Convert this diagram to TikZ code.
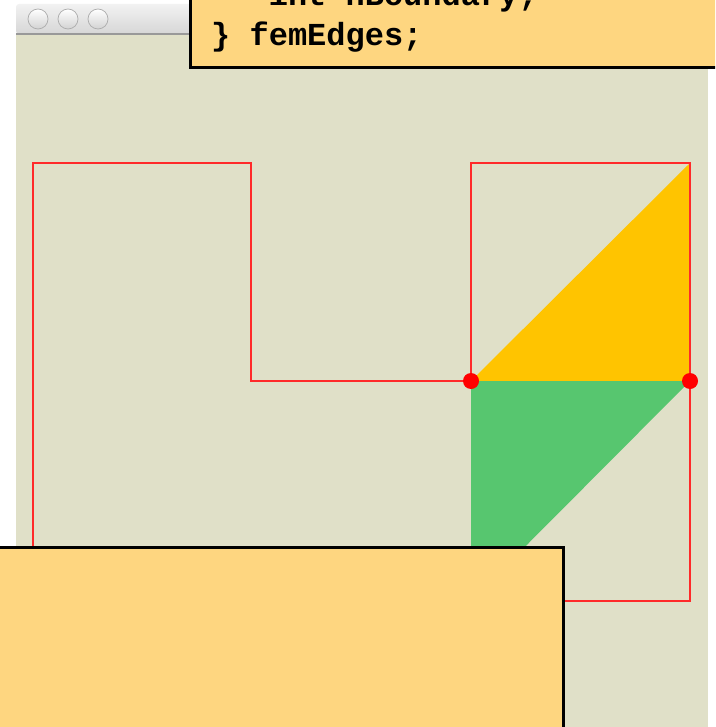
\documentclass[tikz,border=0pt]{standalone}
\usepackage{fontspec}
\setmonofont{Liberation Mono}
\definecolor{canvas}{HTML}{E0E0C8}
\definecolor{barlight}{HTML}{F2F2F2}
\definecolor{bardark}{HTML}{D6D6D6}
\definecolor{note}{HTML}{FED680}
\definecolor{meshred}{HTML}{FF2A2A}
\definecolor{upper}{HTML}{FFC400}
\definecolor{lower}{HTML}{57C66F}

\begin{document}
\begin{tikzpicture}[x=1pt,y=-1pt,
    codebox/.style={fill=note,draw=black,line width=3pt},
    edge/.style={draw=meshred,line width=1.8pt},
    code/.style={font=\ttfamily\bfseries\fontsize{32}{40}\selectfont,anchor=base west,inner sep=0pt}]
    \useasboundingbox (0,0) rectangle (715,727);
    \clip (0,0) rectangle (715,727);
    % window
    \fill[canvas] (16,34) rectangle (708,727);
    \shade[top color=barlight,bottom color=bardark,rounded corners=3pt] (16,34) -- (16,4) -- (708,4) -- (708,34) -- cycle;
    \draw[gray!80,line width=1.2pt] (16,34) -- (708,34);
    \foreach \x in {38,68,98}
      \draw[gray!65,line width=0.7pt,top color=white,bottom color=gray!35] (\x,19) circle (10pt);
    % mesh corners
    \coordinate (nw) at (33,163);
    \coordinate (nm) at (251,163);
    \coordinate (notch) at (251,381);
    \coordinate (a) at (471,381);
    \coordinate (at) at (471,163);
    \coordinate (ne) at (690,163);
    \coordinate (b) at (690,381);
    \coordinate (se) at (690,601);
    \coordinate (sw) at (33,601);
    \coordinate (c) at (471,601);
    \fill[upper] (a) -- (ne) -- (b) -- cycle;
    \fill[lower] (a) -- (b) -- (c) -- cycle;
    \draw[edge] (nw) -- (nm) -- (notch) -- (a) -- (at) -- (ne) -- (se) -- (sw) -- cycle;
    \fill[red] (a) circle (8pt);
    \fill[red] (b) circle (8pt);
    % code notes
    \draw[codebox] (190,-10) rectangle (730,68);
    \node[code] (fieldline) at (211,6) {\phantom{xxx}int nBoundary;};
    \node[code] (closeline) at (211,46) {\} femEdges;};
    \draw[codebox] (-10,547) rectangle (563,740);
  \end{tikzpicture}
\end{document}
